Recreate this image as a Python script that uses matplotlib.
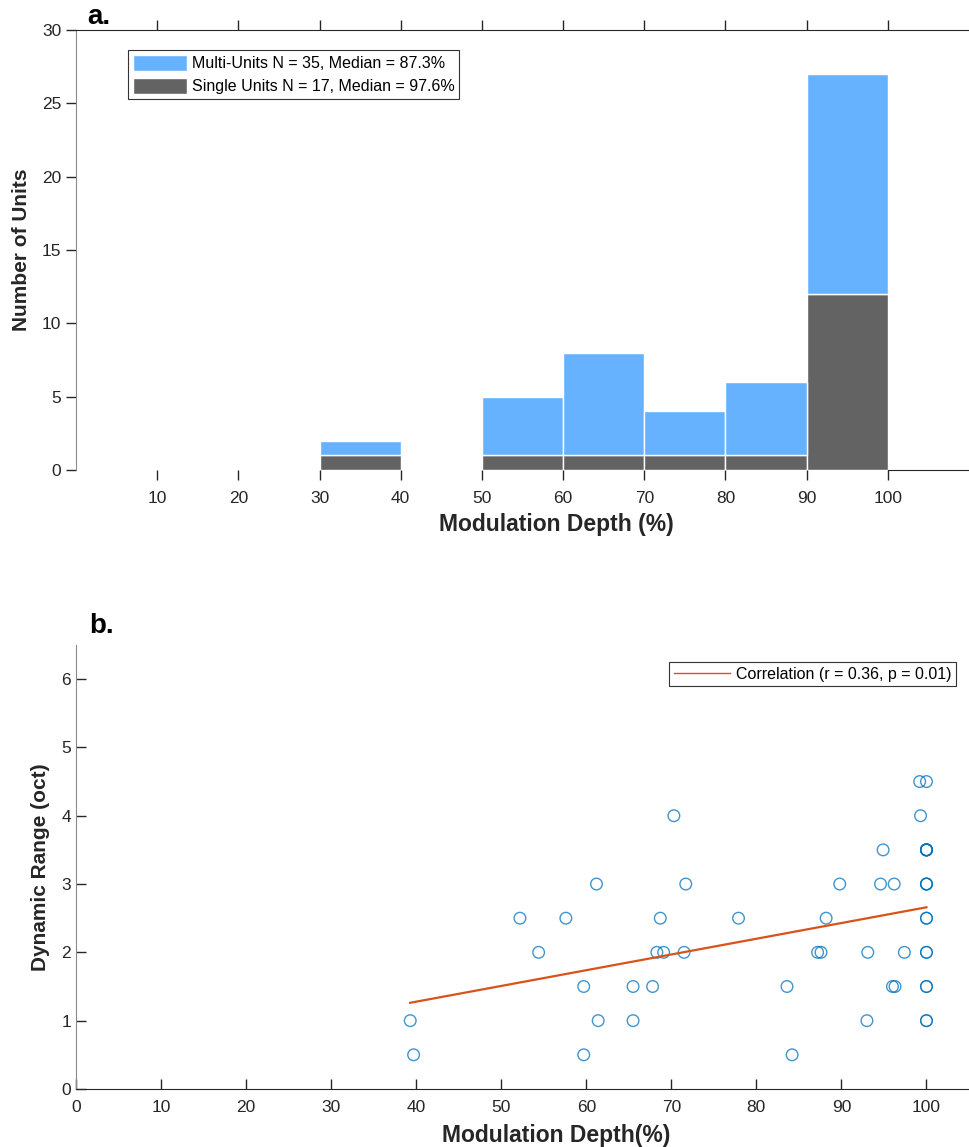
import numpy as np
import matplotlib
matplotlib.use("Agg")
import matplotlib.pyplot as plt
from matplotlib.patches import Patch

plt.rcParams['font.family'] = ['Liberation Sans', 'DejaVu Sans']

# ---- Panel a: modulation-depth histogram ----
bin_edges = [30, 40, 50, 60, 70, 80, 90, 100]
single_counts = [1, 0, 1, 1, 1, 1, 12]
multi_counts = [1, 0, 4, 7, 3, 5, 15]
hist_xticks = [10, 20, 30, 40, 50, 60, 70, 80, 90, 100]
hist_yticks = [0, 5, 10, 15, 20, 25, 30]
multi_label = "Multi-Units N = 35, Median = 87.3%"
single_label = "Single Units N = 17, Median = 97.6%"

# ---- Panel b: dynamic range vs modulation depth ----
mod_depth = [39.3, 39.7, 52.2, 54.4, 57.6, 59.7, 59.7, 61.2, 61.4, 65.5,
             65.5, 67.8, 68.3, 69.1, 68.7, 70.3, 71.7, 71.5, 77.9, 83.6,
             84.2, 87.2, 87.6, 88.2, 89.8, 93.0, 93.1, 94.6, 94.9, 96.0,
             96.3, 96.2, 97.4, 99.2, 99.3,
             100, 100, 100, 100, 100, 100, 100, 100, 100, 100,
             100, 100, 100, 100, 100, 100, 100]
dyn_range = [1.0, 0.5, 2.5, 2.0, 2.5, 1.5, 0.5, 3.0, 1.0, 1.5,
             1.0, 1.5, 2.0, 2.0, 2.5, 4.0, 3.0, 2.0, 2.5, 1.5,
             0.5, 2.0, 2.0, 2.5, 3.0, 1.0, 2.0, 3.0, 3.5, 1.5,
             1.5, 3.0, 2.0, 4.5, 4.0,
             4.5, 3.5, 3.5, 3.5, 3.5, 3.5, 3.0, 3.0, 3.0, 2.5,
             2.5, 2.0, 2.0, 1.5, 1.5, 1.0, 1.0]
scatter_xticks = [0, 10, 20, 30, 40, 50, 60, 70, 80, 90, 100]
scatter_yticks = [0, 1, 2, 3, 4, 5, 6]
corr_label = "Correlation (r = 0.36, p = 0.01)"

BLUE = '#66B2FF'
GRAY = '#636363'
TXT = '#262626'
MARK = '#0072BD'
FIT = '#D95319'

fig = plt.figure(figsize=(9.69, 11.47), dpi=100)

# ================= panel a =================
ax1 = fig.add_axes([0.0784, 0.5902, 0.9216, 0.3836])
lefts = bin_edges[:-1]
widths = np.diff(bin_edges)
ax1.bar(lefts, single_counts, width=widths, align='edge', color=GRAY,
        edgecolor='white', linewidth=1.0, zorder=2)
ax1.bar(lefts, multi_counts, width=widths, bottom=single_counts, align='edge',
        color=BLUE, edgecolor='white', linewidth=1.0, zorder=2)
ax1.set_xlim(0, 110)
ax1.set_ylim(0, 30)
ax1.set_xticks(hist_xticks)
ax1.set_yticks(hist_yticks)
ax1.spines['right'].set_visible(False)
ax1.spines['left'].set_color('#8a8a8a')
ax1.spines['top'].set_color(TXT)
ax1.spines['bottom'].set_color(TXT)
ax1.spines['bottom'].set_bounds(100, 110)
ax1.tick_params(axis='both', direction='out', length=7, width=1.0,
                color=TXT, labelcolor=TXT, labelsize=12.5)
ax1.tick_params(axis='x', top=True, labeltop=False, pad=8)
ax1.set_xlabel("Modulation Depth (%)", fontsize=16.5, fontweight='bold',
               color=TXT)
ax1.xaxis.set_label_coords(0.5385, -0.097)
ax1.set_ylabel("Number of Units", fontsize=15, fontweight='bold',
               color=TXT, labelpad=8)
handles = [Patch(facecolor=BLUE, edgecolor='white'),
           Patch(facecolor=GRAY, edgecolor='white')]
leg1 = ax1.legend(handles, [multi_label, single_label], loc='upper left',
                  bbox_to_anchor=(0.058, 0.955), fontsize=11.5, fancybox=False,
                  framealpha=1, edgecolor='#333333', handlelength=3.4,
                  handleheight=1.2, borderpad=0.3, labelspacing=0.4,
                  handletextpad=0.3, borderaxespad=0)
leg1.get_frame().set_linewidth(0.8)
fig.text(0.090, 0.9735, "a.", fontsize=20, fontweight='bold', ha='left',
         va='bottom')

# ================= panel b =================
ax2 = fig.add_axes([0.0784, 0.0506, 0.9216, 0.3871])
xs = np.array(mod_depth)
ys = np.array(dyn_range)
ax2.scatter(xs, ys, s=70, facecolors='none', edgecolors=MARK,
            linewidths=1.0, alpha=0.75, zorder=3)
slope, intercept = np.polyfit(xs, ys, 1)
fit_x = np.array([xs.min(), xs.max()])
ax2.plot(fit_x, slope * fit_x + intercept, color=FIT, linewidth=1.6,
         label=corr_label, zorder=4)
ax2.set_xlim(0, 105)
ax2.set_ylim(0, 6.5)
ax2.set_xticks(scatter_xticks)
ax2.set_yticks(scatter_yticks)
ax2.spines['right'].set_visible(False)
ax2.spines['top'].set_visible(False)
ax2.spines['left'].set_color('#8a8a8a')
ax2.spines['bottom'].set_color(TXT)
ax2.tick_params(axis='both', direction='in', length=7, width=1.0,
                color=TXT, labelcolor=TXT, labelsize=12.5)
ax2.tick_params(axis='x', pad=8)
ax2.set_xlabel("Modulation Depth(%)", fontsize=16.5, fontweight='bold',
               color=TXT)
ax2.xaxis.set_label_coords(0.5375, -0.079)
ax2.set_ylabel("Dynamic Range (oct)", fontsize=15, fontweight='bold',
               color=TXT, labelpad=8)
leg2 = ax2.legend(loc='upper right', bbox_to_anchor=(0.986, 0.962),
                  fontsize=11.5, fancybox=False, framealpha=1,
                  edgecolor='#333333', handlelength=3.5, borderpad=0.3,
                  handletextpad=0.4, borderaxespad=0)
leg2.get_frame().set_linewidth(0.8)
for ln in leg2.get_lines():
    ln.set_linewidth(1.0)
fig.text(0.092, 0.443, "b.", fontsize=20, fontweight='bold', ha='left',
         va='bottom')

fig.savefig("out.png", dpi=100)
